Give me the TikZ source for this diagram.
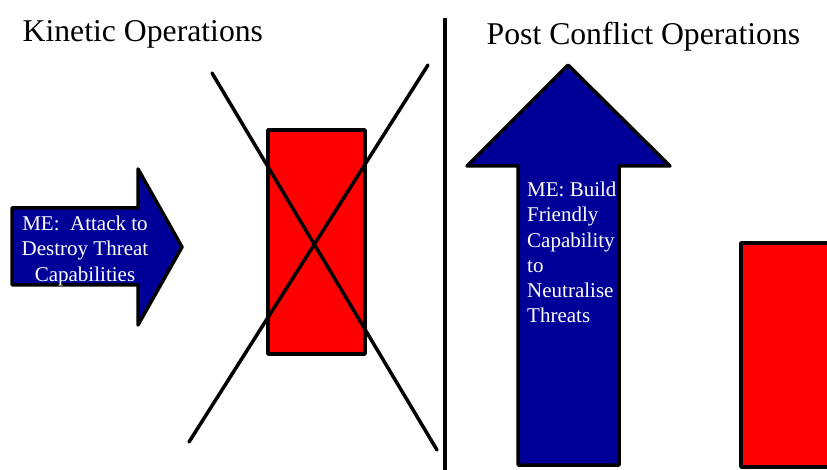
\documentclass[tikz,border=0pt]{standalone}
\usepackage{fontspec}
\setmainfont{Liberation Serif}
\definecolor{meblue}{RGB}{0,0,153}
\definecolor{threatred}{RGB}{255,0,0}
\begin{document}
\begin{tikzpicture}[x=1pt,y=-1pt,
  outline/.style={draw=black,line width=3.5pt,line join=round},
  bluearrow/.style={outline,fill=meblue},
  redbox/.style={outline,fill=threatred},
  crossline/.style={draw=black,line width=3.5pt,line cap=round},
  title/.style={inner sep=0pt,anchor=base west,font=\fontsize{31.7}{36}\selectfont},
  metext/.style={inner sep=0pt,text=white,font=\fontsize{21}{25.3}\selectfont}]
\useasboundingbox (0,0) rectangle (827,470);
% left arrow
\draw[bluearrow] (12,208) -- (138,208) -- (138,169) -- (182,247) -- (138,325) -- (138,285) -- (12,285) -- cycle;
\node[metext,align=center,anchor=north] (lefttext) at (85,215.7) {ME:\ \ Attack to\\Destroy Threat\\Capabilities};
% red box with cross
\draw[redbox] (268,130) rectangle (365,354);
\coordinate (c1a) at (212,73);
\coordinate (c1b) at (437,450);
\coordinate (c2a) at (428,65);
\coordinate (c2b) at (189,442);
\draw[crossline] (c1a) -- (c1b);
\draw[crossline] (c2a) -- (c2b);
% divider
\coordinate (dtop) at (445,18);
\coordinate (dbot) at (445,472);
\draw[line width=3.5pt] (dtop) -- (dbot);
% titles
\node[title] (kin) at (22.5,41.7) {Kinetic Operations};
\node[title] (post) at (486.5,45) {Post Conflict Operations};
% up arrow
\draw[bluearrow] (518,465) -- (518,166) -- (467,166) -- (568,65) -- (670,166) -- (619,166) -- (619,465) -- cycle;
\node[metext,align=left,anchor=north west] (righttext) at (527,181.7) {ME: Build\\Friendly\\Capability\\to\\Neutralise\\Threats};
% right red box
\draw[redbox] (741,243) rectangle (840,467);
\end{tikzpicture}
\end{document}
